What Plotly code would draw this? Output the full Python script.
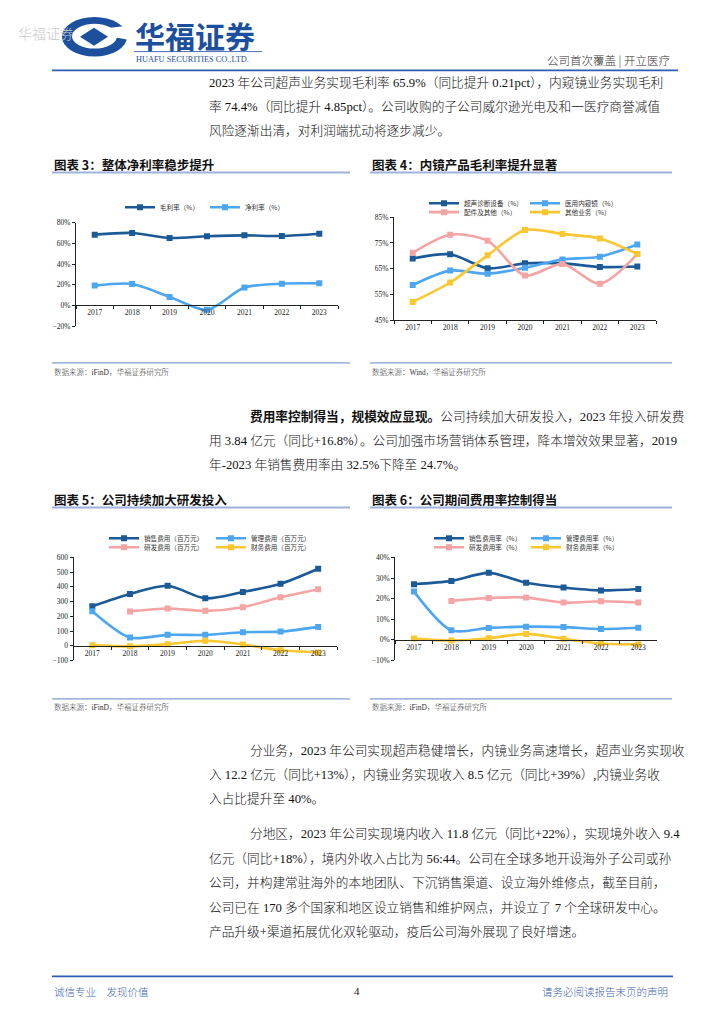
import plotly.graph_objects as go

W, H = 724, 1024
def X(p): return p / W
def Y(p): return 1 - p / H

# ---------------- data ----------------
years = ["2017", "2018", "2019", "2020", "2021", "2022", "2023"]

gross_margin = [68.5, 70.1, 65.3, 66.9, 67.8, 67.2, 69.4]
net_margin = [19.2, 20.8, 8.3, -4.2, 17.3, 21.1, 21.4]

ultrasound_gm = [69.0, 70.6, 65.2, 67.1, 67.1, 65.7, 65.9]
endoscope_gm = [58.7, 64.3, 63.1, 65.4, 68.6, 69.7, 74.4]
parts_gm = [71.2, 78.2, 75.9, 62.4, 66.9, 59.2, 70.7]
other_gm = [52.2, 59.7, 70.2, 80.0, 78.5, 76.7, 70.7]

sales_exp = [268, 351, 407, 322, 365, 421, 523]
admin_exp = [235, 56, 74, 74, 92, 96, 128]
rd_exp = [None, 233, 253, 237, 262, 329, 384]
fin_exp = [4, -4, 11, 34, 9, -31, -45]

sales_rate = [27.0, 28.6, 32.5, 27.7, 25.4, 24.0, 24.7]
admin_rate = [23.4, 4.6, 5.8, 6.4, 6.2, 5.3, 5.9]
rd_rate = [None, 18.9, 20.3, 20.5, 18.1, 18.7, 18.1]
fin_rate = [0.6, -0.3, 0.8, 2.9, 0.5, -1.8, -2.2]

names3 = ["毛利率（%）", "净利率（%）"]
names4 = ["超声诊断设备（%）", "医用内窥镜（%）", "配件及其他（%）", "其他业务（%）"]
names5 = ["销售费用（百万元）", "管理费用（百万元）", "研发费用（百万元）", "财务费用（百万元）"]
names6 = ["销售费用率（%）", "管理费用率（%）", "研发费用率（%）", "财务费用率（%）"]

DARK = "#1C5A97"
LIGHT = "#4DA6F2"
PINK = "#F5A3A3"
YELLOW = "#FBC730"

SERIF = "Liberation Serif, Noto Sans CJK SC"
CJK = "Noto Sans CJK SC"

fig = go.Figure()

def add(series, name, color, xa, ya, legend):
    fig.add_trace(go.Scatter(
        x=years, y=series, name=name, mode="lines+markers",
        line=dict(color=color, width=2.6, shape="spline", smoothing=0.8),
        marker=dict(symbol="square", size=6, color=color),
        xaxis=xa, yaxis=ya, legend=legend, connectgaps=False))

add(gross_margin, names3[0], DARK, "x", "y", "legend")
add(net_margin, names3[1], LIGHT, "x", "y", "legend")

add(ultrasound_gm, names4[0], DARK, "x2", "y2", "legend2")
add(endoscope_gm, names4[1], LIGHT, "x2", "y2", "legend2")
add(parts_gm, names4[2], PINK, "x2", "y2", "legend3")
add(other_gm, names4[3], YELLOW, "x2", "y2", "legend3")

add(sales_exp, names5[0], DARK, "x3", "y3", "legend4")
add(admin_exp, names5[1], LIGHT, "x3", "y3", "legend4")
add(rd_exp, names5[2], PINK, "x3", "y3", "legend5")
add(fin_exp, names5[3], YELLOW, "x3", "y3", "legend5")

add(sales_rate, names6[0], DARK, "x4", "y4", "legend6")
add(admin_rate, names6[1], LIGHT, "x4", "y4", "legend6")
add(rd_rate, names6[2], PINK, "x4", "y4", "legend7")
add(fin_rate, names6[3], YELLOW, "x4", "y4", "legend7")

tickfont = dict(family=SERIF, size=7.5, color="#222")

def yax(top, bot, rng, dtick, suffix, anchor):
    return dict(domain=[Y(bot), Y(top)], range=rng, dtick=dtick, tick0=rng[0],
                ticksuffix=suffix, showgrid=False, zeroline=False, anchor=anchor,
                showline=True, linecolor="#222", linewidth=1,
                ticks="outside", ticklen=3, tickcolor="#222", tickfont=tickfont,
                fixedrange=True)

def xax(left, right, anchor, position=None):
    d = dict(domain=[X(left), X(right)], range=[-0.5, 6.5], type="category",
             showgrid=False, zeroline=False, showline=True, linecolor="#222",
             linewidth=1, ticks="outside", ticklen=3, tickcolor="#222",
             tickson="boundaries", tickfont=tickfont, fixedrange=True)
    if position is not None:
        d["anchor"] = "free"
        d["position"] = position
    else:
        d["anchor"] = anchor
    return d

# chart 3
y3top, y3bot = 220.7, 325.0
fig.update_layout(yaxis=yax(y3top, y3bot, [-20, 80], 20, "%", "x"),
                  xaxis=xax(76, 338, "y", Y(y3bot) + 0.2 * (Y(y3top) - Y(y3bot))))
# chart 4
fig.update_layout(yaxis2=yax(215.0, 319.3, [45, 85], 10, "%", "x2"),
                  xaxis2=xax(394, 656, "y2"))
# chart 5
y5top, y5bot = 558.3, 662.3
fig.update_layout(yaxis3=yax(y5top, y5bot, [-100, 600], 100, "", "x3"),
                  xaxis3=xax(73.5, 337, "y3", Y(y5bot) + (100 / 700) * (Y(y5top) - Y(y5bot))))
# chart 6
fig.update_layout(yaxis4=yax(y5top, y5bot, [-10, 40], 10, "%", "x4"),
                  xaxis4=xax(395.3, 657, "y4", Y(y5bot) + 0.2 * (Y(y5top) - Y(y5bot))))

# legends
def leg(xp, yp, ew):
    return dict(x=X(xp), y=Y(yp), xanchor="left", yanchor="middle",
                orientation="h", entrywidth=ew, entrywidthmode="pixels",
                font=dict(family=CJK, size=6.6, color="#333"),
                bgcolor="rgba(0,0,0,0)", itemwidth=30, tracegroupgap=0,
                itemclick=False, itemdoubleclick=False)

fig.update_layout(
    legend=leg(120, 205, 40),
    legend2=leg(424, 201, 56),
    legend3=leg(424, 210, 56),
    legend4=leg(104, 539, 62),
    legend5=leg(104, 548, 62),
    legend6=leg(429, 539, 52),
    legend7=leg(429, 548, 52),
)

# ---------------- page text ----------------
ann = []
def T(x, y, text, size=12.7, color="#111", anchor="left", family=SERIF, weight=None):
    f = dict(family=family, size=size, color=color)
    if weight:
        f["weight"] = weight
    ann.append(dict(x=X(x), y=Y(y), xref="paper", yref="paper", text=text,
                    showarrow=False, xanchor=anchor, yanchor="middle", font=f))

# header
T(16, 29, "华福证券", 14, "#C9C9C9", family=CJK, weight=300)
T(133, 31, "<b>华福证券</b>", 30, "#1D4F9F", family=CJK)
T(134, 56, "HUAFU SECURITIES CO.,LTD.", 8.3, "#1D4F9F", family="Liberation Serif")
T(672, 57, "公司首次覆盖 | 开立医疗", 11.5, "#333", anchor="right", family=CJK, weight=300)

# paragraph 1
p1 = ["2023 年公司超声业务实现毛利率 65.9%（同比提升 0.21pct），内窥镜业务实现毛利",
      "率 74.4%（同比提升 4.85pct）。公司收购的子公司威尔逊光电及和一医疗商誉减值",
      "风险逐渐出清，对利润端扰动将逐步减少。"]
for i, s in enumerate(p1):
    T(207, 79 + i * 24.5, s, weight=300)

T(52, 162, "<b>图表 3：整体净利率稳步提升</b>", 12.5, "#111", family=CJK)
T(370, 162, "<b>图表 4：内镜产品毛利率提升显著</b>", 12.5, "#111", family=CJK)
T(52, 371, "数据来源：iFinD，华福证券研究所", 7.5, "#333", weight=300)
T(370, 371, "数据来源：Wind，华福证券研究所", 7.5, "#333", weight=300)

p2 = ["<b>费用率控制得当，规模效应显现。</b>公司持续加大研发投入，2023 年投入研发费",
      "用 3.84 亿元（同比+16.8%）。公司加强市场营销体系管理，降本增效效果显著，2019",
      "年-2023 年销售费用率由 32.5%下降至 24.7%。"]
for i, s in enumerate(p2):
    T(248 if i == 0 else 207, 416 + i * 24.5, s, weight=300)

T(52, 500, "<b>图表 5：公司持续加大研发投入</b>", 12.5, "#111", family=CJK)
T(370, 500, "<b>图表 6：公司期间费用率控制得当</b>", 12.5, "#111", family=CJK)
T(52, 709, "数据来源：iFinD，华福证券研究所", 7.5, "#333", weight=300)
T(370, 709, "数据来源：iFinD，华福证券研究所", 7.5, "#333", weight=300)

p3 = ["分业务，2023 年公司实现超声稳健增长，内镜业务高速增长，超声业务实现收",
      "入 12.2 亿元（同比+13%），内镜业务实现收入 8.5 亿元（同比+39%）,内镜业务收",
      "入占比提升至 40%。"]
for i, s in enumerate(p3):
    T(248 if i == 0 else 207, 753 + i * 24.5, s, weight=300)

p4 = ["分地区，2023 年公司实现境内收入 11.8 亿元（同比+22%），实现境外收入 9.4",
      "亿元（同比+18%），境内外收入占比为 56:44。公司在全球多地开设海外子公司或孙",
      "公司，并构建常驻海外的本地团队、下沉销售渠道、设立海外维修点，截至目前，",
      "公司已在 170 多个国家和地区设立销售和维护网点，并设立了 7 个全球研发中心。",
      "产品升级+渠道拓展优化双轮驱动，疫后公司海外展现了良好增速。"]
for i, s in enumerate(p4):
    T(248 if i == 0 else 207, 837 + i * 24.7, s, weight=300)

# footer
T(52, 996, "诚信专业　发现价值", 10.5, "#3E66B0", family=CJK, weight=300)
T(357, 996, "4", 11, "#111", anchor="center", family="Liberation Serif")
T(670, 996, "请务必阅读报告末页的声明", 10.5, "#3E66B0", anchor="right", family=CJK, weight=300)

fig.update_layout(annotations=ann)

# ---------------- shapes (rules, logo) ----------------
shapes = []
def HL(x0, x1, y, color, w):
    shapes.append(dict(type="line", xref="paper", yref="paper",
                       x0=X(x0), x1=X(x1), y0=Y(y), y1=Y(y),
                       line=dict(color=color, width=w)))

HL(52, 678, 67, "#2F5DB5", 1.6)
for x0, x1 in [(52, 350), (370, 672)]:
    HL(x0, x1, 170, "#9DB3DE", 2)
    HL(x0, x1, 508, "#9DB3DE", 2)
    HL(x0, x1, 362, "#7E9CD3", 1.3)
    HL(x0, x1, 701, "#7E9CD3", 1.3)
HL(52, 673, 981, "#2F5DB5", 1.6)
HL(134, 262, 48, "#1D4F9F", 0.8)

# logo icon
def ell(x0, y0, x1, y1, color):
    shapes.append(dict(type="circle", xref="paper", yref="paper",
                       x0=X(x0), x1=X(x1), y0=Y(y1), y1=Y(y0),
                       fillcolor=color, line=dict(width=0)))
ell(62, 13, 127, 53, "#1D4F9F")
ell(72, 20, 117, 45, "white")
shapes.append(dict(type="path", xref="paper", yref="paper",
                   path=f"M {X(110)},{Y(24)} L {X(128)},{Y(22)} L {X(128)},{Y(36)} L {X(112)},{Y(33)} Z",
                   fillcolor="white", line=dict(width=0)))
shapes.append(dict(type="path", xref="paper", yref="paper",
                   path=f"M {X(94)},{Y(24)} L {X(108)},{Y(33)} L {X(94)},{Y(42)} L {X(80)},{Y(33)} Z",
                   fillcolor="#1D4F9F", line=dict(width=0)))
fig.update_layout(shapes=shapes)

fig.update_layout(width=W, height=H, margin=dict(l=0, r=0, t=0, b=0),
                  paper_bgcolor="white", plot_bgcolor="white",
                  font=dict(family=SERIF))

fig.write_html("out.html", config={"displayModeBar": False},
               post_script="document.body.style.margin='0px';")
